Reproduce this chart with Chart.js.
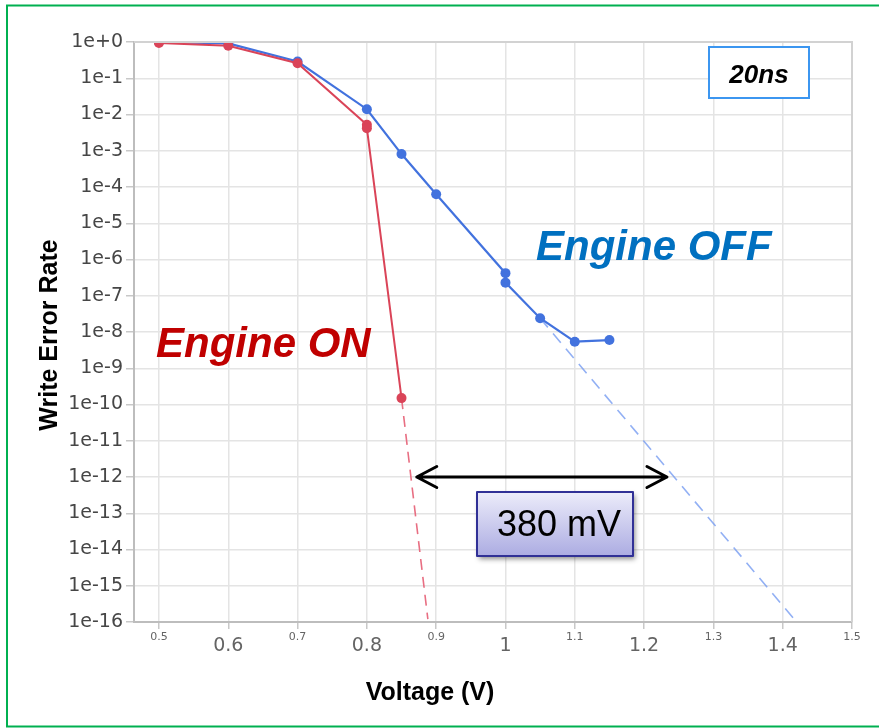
<!DOCTYPE html>
<html>
<head>
<meta charset="utf-8">
<script src="https://cdn.jsdelivr.net/npm/chart.js@4"></script>
<style>
  html, body { margin: 0; padding: 0; background: #fff; }
  #wrap { position: relative; width: 879px; height: 728px; }
</style>
</head>
<body>
<div id="wrap"><canvas id="werChart" width="879" height="728"></canvas></div>
<script>
const xTicks = [0.5, 0.6, 0.7, 0.8, 0.9, 1.0, 1.1, 1.2, 1.3, 1.4, 1.5];
const xTickLabels = ['0.5', '0.6', '0.7', '0.8', '0.9', '1', '1.1', '1.2', '1.3', '1.4', '1.5'];
const yTicks = [1e0, 1e-1, 1e-2, 1e-3, 1e-4, 1e-5, 1e-6, 1e-7, 1e-8, 1e-9, 1e-10, 1e-11, 1e-12, 1e-13, 1e-14, 1e-15, 1e-16];
const yTickLabels = ['1e+0', '1e-1', '1e-2', '1e-3', '1e-4', '1e-5', '1e-6', '1e-7', '1e-8', '1e-9', '1e-10', '1e-11', '1e-12', '1e-13', '1e-14', '1e-15', '1e-16'];

// Engine ON (measured + extrapolation)
const onVoltage = [0.5, 0.6, 0.7, 0.8, 0.8, 0.85];
const onWer = [0.94, 0.79, 0.26, 5.2e-3, 4.2e-3, 1.5e-10];
const onFitVoltage = [0.85, 0.888];
const onFitWer = [1.5e-10, 1.2e-16];

// Engine OFF (measured + extrapolation)
const offVoltage = [0.5, 0.6, 0.7, 0.8, 0.85, 0.9, 1.0, 1.0, 1.05, 1.1, 1.15];
const offWer = [1.0, 0.92, 0.29, 1.4e-2, 8.1e-4, 6.3e-5, 4.2e-7, 2.3e-7, 2.4e-8, 5.4e-9, 6.0e-9];
const offFitVoltage = [1.05, 1.42];
const offFitWer = [2.4e-8, 1e-16];

const RED = 'rgb(218, 68, 88)';
const BLUE = 'rgb(66, 114, 222)';
const FONT = "'Liberation Sans', Arial, sans-serif";

const toPoints = (xs, ys) => xs.map((v, i) => ({ x: v, y: ys[i] }));

const annotations = {
  id: 'annotations',
  beforeDraw(chart) {
    const { ctx } = chart;
    ctx.save();
    ctx.fillStyle = '#fff';
    ctx.fillRect(0, 0, chart.width, chart.height);
    ctx.restore();
  },
  afterDraw(chart) {
    const { ctx, chartArea, scales: { x, y } } = chart;
    ctx.save();

    // top / right frame of the plot
    ctx.strokeStyle = '#d2d2d2';
    ctx.lineWidth = 2;
    ctx.beginPath();
    ctx.moveTo(chartArea.left, chartArea.top);
    ctx.lineTo(chartArea.right, chartArea.top);
    ctx.lineTo(chartArea.right, chartArea.bottom);
    ctx.stroke();

    // green outer border
    ctx.strokeStyle = 'rgb(0, 176, 80)';
    ctx.lineWidth = 2;
    ctx.strokeRect(7, 5.5, 900, 721);

    // axis titles
    ctx.fillStyle = '#000';
    ctx.font = `bold 25px ${FONT}`;
    ctx.textAlign = 'center';
    ctx.textBaseline = 'alphabetic';
    ctx.fillText('Voltage (V)', 430, 700);
    ctx.save();
    ctx.translate(57, 335);
    ctx.rotate(-Math.PI / 2);
    ctx.fillText('Write Error Rate', 0, 0);
    ctx.restore();

    // series labels
    ctx.textAlign = 'left';
    ctx.font = `italic bold 42px ${FONT}`;
    ctx.fillStyle = 'rgb(0, 112, 192)';
    ctx.fillText('Engine OFF', 536, 260);
    ctx.fillStyle = 'rgb(192, 0, 0)';
    ctx.fillText('Engine ON', 156, 357);

    // 20ns box
    ctx.fillStyle = '#fff';
    ctx.fillRect(709, 47, 100, 51);
    ctx.strokeStyle = 'rgb(60, 150, 240)';
    ctx.lineWidth = 2;
    ctx.strokeRect(709, 47, 100, 51);
    ctx.fillStyle = '#000';
    ctx.font = `italic bold 26px ${FONT}`;
    ctx.textAlign = 'center';
    ctx.fillText('20ns', 759, 83);

    // double arrow at 1e-12
    const ay = y.getPixelForValue(1e-12);
    const ax1 = x.getPixelForValue(0.872);
    const ax2 = x.getPixelForValue(1.233);
    ctx.strokeStyle = '#000';
    ctx.lineWidth = 3;
    ctx.lineCap = 'round';
    ctx.lineJoin = 'round';
    ctx.beginPath();
    ctx.moveTo(ax1, ay);
    ctx.lineTo(ax2, ay);
    ctx.moveTo(ax1 + 20, ay - 10.5);
    ctx.lineTo(ax1, ay);
    ctx.lineTo(ax1 + 20, ay + 10.5);
    ctx.moveTo(ax2 - 20, ay - 10.5);
    ctx.lineTo(ax2, ay);
    ctx.lineTo(ax2 - 20, ay + 10.5);
    ctx.stroke();

    // 380 mV box
    const bx = 477, by = 492, bw = 156, bh = 64;
    ctx.save();
    ctx.shadowColor = 'rgba(0, 0, 0, 0.45)';
    ctx.shadowBlur = 5;
    ctx.shadowOffsetX = 2;
    ctx.shadowOffsetY = 3;
    const grad = ctx.createLinearGradient(0, by, 0, by + bh);
    grad.addColorStop(0, 'rgb(236, 236, 250)');
    grad.addColorStop(1, 'rgb(172, 172, 226)');
    ctx.fillStyle = grad;
    ctx.fillRect(bx, by, bw, bh);
    ctx.restore();
    ctx.strokeStyle = 'rgb(48, 48, 150)';
    ctx.lineWidth = 2;
    ctx.strokeRect(bx, by, bw, bh);
    ctx.fillStyle = '#000';
    ctx.font = `36px ${FONT}`;
    ctx.textAlign = 'left';
    ctx.fillText('380 mV', 497, 536);

    ctx.restore();
  }
};

new Chart(document.getElementById('werChart'), {
  type: 'line',
  data: {
    datasets: [
      {
        label: 'Engine ON',
        data: toPoints(onVoltage, onWer),
        borderColor: RED,
        backgroundColor: RED,
        borderWidth: 2,
        pointRadius: 5,
        pointBorderWidth: 0,
        tension: 0
      },
      {
        label: 'Engine OFF',
        data: toPoints(offVoltage, offWer),
        borderColor: BLUE,
        backgroundColor: BLUE,
        borderWidth: 2.2,
        pointRadius: 5,
        pointBorderWidth: 0,
        tension: 0
      },
      {
        label: 'Engine ON fit',
        data: toPoints(onFitVoltage, onFitWer),
        borderColor: 'rgb(232, 110, 130)',
        borderWidth: 1.6,
        borderDash: [11, 7],
        pointRadius: 0
      },
      {
        label: 'Engine OFF fit',
        data: toPoints(offFitVoltage, offFitWer),
        borderColor: 'rgba(110, 150, 240, 0.75)',
        borderWidth: 1.6,
        borderDash: [12, 8],
        pointRadius: 0
      }
    ]
  },
  options: {
    responsive: false,
    animation: false,
    layout: { padding: { top: 42, right: 27, left: 0, bottom: 0 } },
    plugins: {
      legend: { display: false },
      tooltip: { enabled: false }
    },
    scales: {
      x: {
        type: 'linear',
        min: 0.464,
        max: 1.5,
        afterBuildTicks: (axis) => { axis.ticks = xTicks.map((v) => ({ value: v })); },
        afterFit: (scale) => { scale.height = 106; },
        grid: { color: '#e4e4e4', lineWidth: 1.5, tickLength: 7, tickColor: '#c8c8c8' },
        border: { color: '#bdbdbd', width: 2 },
        ticks: {
          padding: 3,
          maxRotation: 0,
          autoSkip: false,
          color: 'rgb(100, 100, 100)',
          font: (c) => (c.index % 2 === 0
            ? { family: "'DejaVu Sans', sans-serif", size: 11, lineHeight: 0.9 }
            : { family: "'DejaVu Sans', sans-serif", size: 19, lineHeight: 1.45 }),
          callback: (v, i) => xTickLabels[i]
        }
      },
      y: {
        type: 'logarithmic',
        min: 1e-16,
        max: 1,
        afterBuildTicks: (axis) => { axis.ticks = yTicks.map((v) => ({ value: v, major: false })); },
        afterFit: (scale) => { scale.width = 134; },
        grid: { color: '#e4e4e4', lineWidth: 1.5, tickLength: 8, tickColor: '#c8c8c8' },
        border: { color: '#bdbdbd', width: 2 },
        ticks: {
          padding: 3,
          autoSkip: false,
          color: 'rgb(70, 70, 70)',
          font: { family: "'DejaVu Sans', sans-serif", size: 19 },
          callback: (v, i) => yTickLabels[i]
        }
      }
    }
  },
  plugins: [annotations]
});
</script>
</body>
</html>
